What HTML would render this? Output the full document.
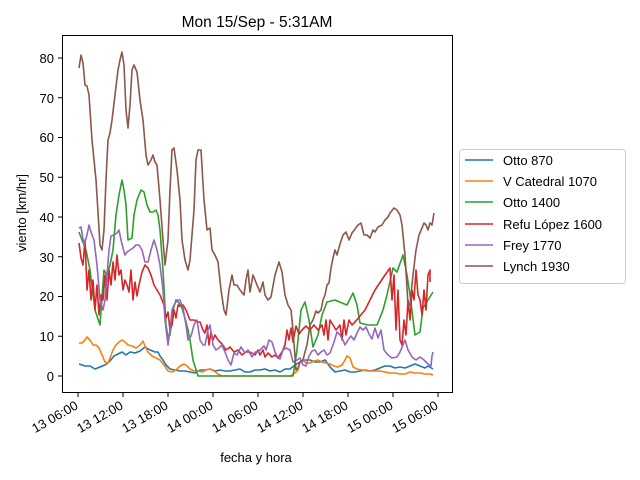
<!DOCTYPE html>
<html><head><meta charset="utf-8"><style>body{margin:0;background:#fff}svg{display:block}text{font-family:"Liberation Sans","DejaVu Sans",sans-serif;font-size:13px;fill:#000}</style></head>
<body>
<svg width="640" height="480" viewBox="0 0 640 480" xmlns="http://www.w3.org/2000/svg">
<rect width="640" height="480" fill="#fff"/>
<text x="257" y="27" text-anchor="middle" style="font-size:15.5px">Mon 15/Sep - 5:31AM</text>
<g fill="none" stroke-width="1.6" stroke-linejoin="round">
<polyline stroke="#1f77b4" points="79,364 85,366 90,366 95,369 100,367 105,365 110,361 114,356 118,354 122,352 126,355 130,352 135,353 140,351 145,347 150,350 155,352 158,352 160,356 163,360 166,365 170,369 175,370 180,371 185,371 190,372 195,373 200,370 205,370 210,369 215,371 220,370 225,371 230,371 235,370 240,369 245,372 250,372 255,370 260,370 265,369 270,371 275,370 280,372 285,369 290,369 295,365 300,362 305,360 310,360 315,362 320,362 325,360 330,367 335,372 340,371 345,370 350,372 355,372 360,371 365,370 370,371 375,370 380,368 385,366 390,366 395,368 400,367 405,368 410,366 415,364 420,366 425,368 428,366 433,369"/>
<polyline stroke="#ff7f0e" points="79,343 82,343 85,340 87,337 90,340 93,345 96,345 99,348 102,355 105,362 108,363 110,358 113,350 116,345 119,342 122,340 125,342 128,345 132,346 136,348 140,345 143,341 145,346 148,352 152,356 156,358 160,360 164,365 168,371 172,372 176,370 180,366 184,364 187,366 190,369 194,371 198,371 202,372 206,370 210,369 214,371 218,374 222,376 230,376 290,376 295,373 298,370 300,362 303,360 306,363 310,363 314,361 318,360 322,362 326,363 330,364 334,366 338,367 342,365 345,360 347,356 350,358 353,367 357,369 362,370 368,371 375,371 380,371 385,372 390,373 395,373 400,374 405,374 410,372 415,373 420,373 425,374 430,374 433,375"/>
<polyline stroke="#2ca02c" points="79,232 82,240 86,250 90,270 95,310 100,325 104,270 107,275 110,265 113,250 116,215 119,195 122,180 124,190 126,205 128,240 132,238 134,215 137,200 141,190 144,192 147,205 150,212 153,212 156,210 158,215 160,230 163,270 166,325 168,337 170,335 173,310 176,300 179,303 182,308 184,315 186,322 188,330 190,340 193,360 198,376 293,376 297,350 301,310 305,302 309,320 313,347 318,335 322,315 327,302 335,300 342,303 347,305 353,293 357,305 360,323 368,325 377,325 383,310 387,295 393,268 397,272 403,255 407,275 410,295 415,335 420,332 423,308 428,300 433,292"/>
<polyline stroke="#d62728" points="79,243 81,258 83,265 85,240 87,290 89,270 91,300 93,280 95,310 97,285 99,315 101,295 103,300 105,275 107,300 109,270 111,285 113,262 115,280 117,255 119,275 121,270 123,290 125,280 127,285 129,292 131,270 133,300 135,282 137,296 139,285 142,272 145,265 148,268 151,275 154,285 157,290 160,295 162,300 164,305 166,318 168,312 170,330 172,325 174,310 176,318 178,305 180,306 183,305 186,310 188,315 190,320 194,320 198,322 200,322 203,330 205,333 207,325 209,345 211,332 213,340 215,335 218,340 222,344 226,350 230,347 234,352 238,350 242,355 246,352 250,352 255,355 258,350 260,355 263,350 265,357 268,353 272,357 275,355 278,358 282,352 285,345 287,330 289,340 291,328 293,342 296,326 299,334 302,330 306,326 310,330 314,325 318,330 322,325 324,335 326,320 328,340 330,320 333,325 336,330 340,325 342,340 344,320 346,335 349,320 352,325 355,322 365,310 375,290 385,275 390,268 392,300 394,275 396,330 398,290 400,340 402,345 404,320 406,335 408,300 410,320 412,290 414,300 416,270 418,295 420,300 422,315 424,290 426,310 428,275 430,270 430,282"/>
<polyline stroke="#9467bd" points="79,228 81,227 84,245 87,235 89,225 91,232 94,240 97,265 100,300 103,310 105,300 107,275 109,250 111,236 114,235 117,233 119,230 121,240 123,248 125,255 127,252 130,250 133,248 136,245 139,245 142,250 145,262 148,262 151,250 154,240 157,250 160,265 163,290 165,320 168,345 170,330 172,310 174,305 177,300 180,300 183,308 186,325 188,340 191,336 194,325 197,320 200,340 203,345 205,345 208,330 210,325 213,345 216,350 219,348 222,345 225,352 228,360 231,365 234,353 237,355 241,347 245,353 248,350 252,357 255,352 258,352 260,350 264,346 266,350 269,340 272,342 275,352 278,358 280,359 283,350 286,348 290,350 293,362 297,360 300,358 303,365 306,366 309,356 312,351 315,350 318,355 321,352 324,350 327,355 330,353 334,342 337,332 340,335 343,340 345,345 348,340 351,336 354,340 357,333 360,327 363,330 366,327 369,334 372,339 375,328 378,338 381,330 384,350 388,355 392,358 397,357 400,352 403,345 405,340 408,350 412,357 416,360 420,357 424,360 428,364 431,366 432,356 433,352"/>
<polyline stroke="#8c564b" points="79,68 81,55 83,63 85,85 87,86 89,95 92,140 96,180 100,245 102,250 104,230 106,180 108,140 110,133 112,120 115,95 118,70 120,60 122,52 124,65 126,110 128,128 130,105 132,70 134,65 137,72 140,100 143,120 146,155 148,165 151,160 153,155 155,162 157,165 160,200 163,240 165,265 168,240 170,190 172,150 174,148 177,170 180,200 182,240 185,260 188,270 190,260 194,210 196,160 198,150 201,150 204,200 207,230 210,228 212,250 215,255 218,262 221,290 224,310 226,315 229,290 232,275 234,285 237,285 240,290 244,295 246,280 248,270 250,292 253,275 257,285 260,292 263,282 265,295 268,300 271,297 275,275 279,262 282,272 285,295 288,305 291,310 293,330 296,370 298,368 300,362 303,360 305,352 307,345 310,325 313,320 316,311 318,313 321,310 323,300 325,295 327,285 329,283 331,268 333,258 335,250 337,255 340,244 343,235 346,232 349,240 352,233 355,229 358,225 361,223 364,235 367,235 370,238 373,230 375,232 378,227 382,225 385,220 388,217 390,213 394,208 397,210 400,215 402,225 405,255 408,305 410,305 413,275 416,250 419,235 422,228 424,223 426,225 428,230 430,223 432,225 434,213"/>
</g>
<rect x="62.5" y="35.5" width="390" height="357" fill="none" stroke="#000" stroke-width="1"/>
<g stroke="#000" stroke-width="1">
<line x1="58" x2="62" y1="376" y2="376"/><line x1="58" x2="62" y1="336.25" y2="336.25"/><line x1="58" x2="62" y1="296.5" y2="296.5"/><line x1="58" x2="62" y1="256.75" y2="256.75"/><line x1="58" x2="62" y1="217" y2="217"/><line x1="58" x2="62" y1="177.25" y2="177.25"/><line x1="58" x2="62" y1="137.5" y2="137.5"/><line x1="58" x2="62" y1="97.75" y2="97.75"/><line x1="58" x2="62" y1="58" y2="58"/>
<line x1="78" x2="78" y1="393" y2="397"/><line x1="123" x2="123" y1="393" y2="397"/><line x1="168" x2="168" y1="393" y2="397"/><line x1="213" x2="213" y1="393" y2="397"/><line x1="258" x2="258" y1="393" y2="397"/><line x1="303" x2="303" y1="393" y2="397"/><line x1="348" x2="348" y1="393" y2="397"/><line x1="393" x2="393" y1="393" y2="397"/><line x1="438" x2="438" y1="393" y2="397"/>
</g>
<g text-anchor="end" style="font-size:13px">
<text x="54" y="381">0</text><text x="54" y="341">10</text><text x="54" y="301">20</text><text x="54" y="262">30</text><text x="54" y="222">40</text><text x="54" y="182">50</text><text x="54" y="142">60</text><text x="54" y="103">70</text><text x="54" y="63">80</text>
</g>
<g text-anchor="end">
<text transform="translate(79,408) rotate(-30)">13 06:00</text>
<text transform="translate(124,408) rotate(-30)">13 12:00</text>
<text transform="translate(169,408) rotate(-30)">13 18:00</text>
<text transform="translate(214,408) rotate(-30)">14 00:00</text>
<text transform="translate(259,408) rotate(-30)">14 06:00</text>
<text transform="translate(304,408) rotate(-30)">14 12:00</text>
<text transform="translate(349,408) rotate(-30)">14 18:00</text>
<text transform="translate(394,408) rotate(-30)">15 00:00</text>
<text transform="translate(439,408) rotate(-30)">15 06:00</text>
</g>
<text x="256" y="462" text-anchor="middle">fecha y hora</text>
<text transform="translate(26,213) rotate(-90)" text-anchor="middle">viento [km/hr]</text>
<rect x="459.5" y="149.5" width="166" height="134" rx="3" fill="#fff" stroke="#ccc"/>
<g stroke-width="1.6">
<line x1="465" x2="493" y1="160" y2="160" stroke="#1f77b4"/>
<line x1="465" x2="493" y1="181" y2="181" stroke="#ff7f0e"/>
<line x1="465" x2="493" y1="202" y2="202" stroke="#2ca02c"/>
<line x1="465" x2="493" y1="224" y2="224" stroke="#d62728"/>
<line x1="465" x2="493" y1="245" y2="245" stroke="#9467bd"/>
<line x1="465" x2="493" y1="266" y2="266" stroke="#8c564b"/>
</g>
<text x="503" y="165">Otto 870</text>
<text x="503" y="186">V Catedral 1070</text>
<text x="503" y="207">Otto 1400</text>
<text x="503" y="229">Refu López 1600</text>
<text x="503" y="250">Frey 1770</text>
<text x="503" y="271">Lynch 1930</text>
</svg>
</body></html>
